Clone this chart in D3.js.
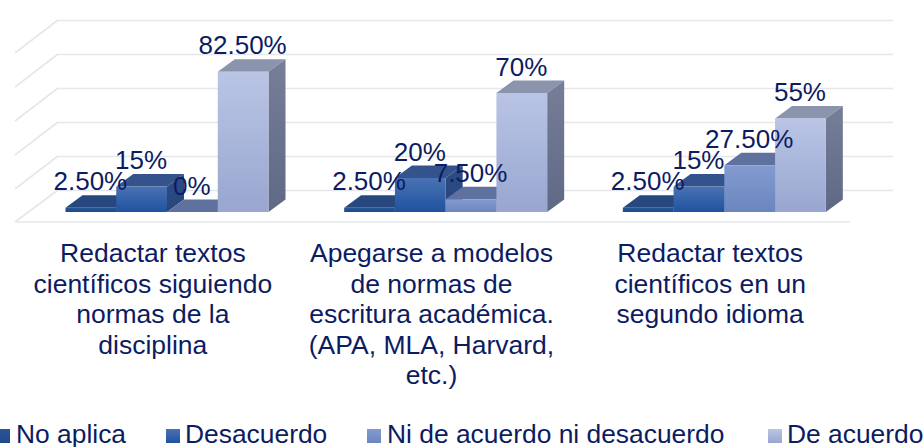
<!DOCTYPE html>
<html>
<head>
<meta charset="utf-8">
<title>Redaccion academica</title>
<script src="https://d3js.org/d3.v7.min.js"></script>
<style>
  html, body { margin: 0; padding: 0; background: #fff; overflow: hidden; }
  text { font-family: "Liberation Sans", Arial, sans-serif; fill: #0c1c62; }
</style>
</head>
<body>
<div id="vis"></div>
<script>
// data
var categories = ["c1", "c2", "c3"]
var categoryLines = [
  ["Redactar textos", "científicos siguiendo", "normas de la", "disciplina"],
  ["Apegarse a modelos", "de normas de", "escritura académica.", "(APA, MLA, Harvard,", "etc.)"],
  ["Redactar textos", "científicos en un", "segundo idioma"]
]
var seriesNames = ["No aplica", "Desacuerdo", "Ni de acuerdo ni desacuerdo", "De acuerdo"]
var noAplica = [2.5, 2.5, 2.5]
var desacuerdo = [15, 20, 15]
var niDeAcuerdo = [0, 7.5, 27.5]
var deAcuerdo = [82.5, 70, 55]
var valueLabels = [
  ["2.50%", "2.50%", "2.50%"],
  ["15%", "20%", "15%"],
  ["0%", "7.50%", "27.50%"],
  ["82.50%", "70%", "55%"]
]
var gridTicks = [0, 20, 40, 60, 80, 100]

var seriesValues = [noAplica, desacuerdo, niDeAcuerdo, deAcuerdo]

var width = 924, height = 447
var depthX = 17, depthY = 12.5      // 3d offset of the bars
var wallX = 43, wallY = 22          // offset from the floor front to the back wall

var svg = d3.select("#vis").append("svg")
  .attr("width", width).attr("height", height)
  .style("display", "block")

// bar colours: front gradient top/bottom, roof, side top/bottom
var colors = [
  { f0: "#2a5596", f1: "#1c4a8c", top: "#27477f", s0: "#27477f", s1: "#27477f" },
  { f0: "#4a72b4", f1: "#1f529f", top: "#34538c", s0: "#2d4c84", s1: "#26467d" },
  { f0: "#849bd0", f1: "#6a86bf", top: "#5f729f", s0: "#5b6d99", s1: "#4f6190" },
  { f0: "#bac5e5", f1: "#98a6d0", top: "#8a94ad", s0: "#767e98", s1: "#5f6885" }
]

var defs = svg.append("defs")
colors.forEach(function (c, i) {
  var g = defs.append("linearGradient").attr("id", "front" + i)
    .attr("x1", 0).attr("y1", 0).attr("x2", 0).attr("y2", 1)
  g.append("stop").attr("offset", "0%").attr("stop-color", c.f0)
  g.append("stop").attr("offset", "100%").attr("stop-color", c.f1)
  var s = defs.append("linearGradient").attr("id", "side" + i)
    .attr("x1", 0).attr("y1", 0).attr("x2", 0).attr("y2", 1)
  s.append("stop").attr("offset", "0%").attr("stop-color", c.s0)
  s.append("stop").attr("offset", "100%").attr("stop-color", c.s1)
})

// scales
var x0 = d3.scaleBand().domain(categories).range([27.5, 863.5])
var x1 = d3.scaleBand().domain(d3.range(4)).range([38, 241])
var y = d3.scaleLinear().domain([0, 100]).range([212, 42])

// back wall gridlines
var gridX0 = 58, gridX1 = 893
var gridG = svg.append("g")
  .attr("transform", "translate(" + gridX0 + "," + (-wallY) + ")")
  .call(d3.axisLeft(y).tickValues(gridTicks).tickSize(-(gridX1 - gridX0)).tickFormat(""))
gridG.select(".domain").remove()
gridG.selectAll("line").attr("stroke", "#e6e7ea").attr("stroke-width", 1.6)

// slanted lines on the left side wall
svg.append("g").selectAll("line").data(gridTicks).enter().append("line")
  .attr("x1", gridX0).attr("y1", function (d) { return y(d) - wallY })
  .attr("x2", gridX0 - wallX).attr("y2", function (d) { return y(d) + (d === 0 ? 10 : 11) })
  .attr("stroke", "#e6e7ea").attr("stroke-width", 1.6)

// floor front line
svg.append("line")
  .attr("x1", 16).attr("x2", 850)
  .attr("y1", y(0) + 10).attr("y2", y(0) + 10)
  .attr("stroke", "#e6e7ea").attr("stroke-width", 1.6)

// bars, left to right so the next bar covers the side of the previous one
var bars = []
categories.forEach(function (c, ci) {
  seriesValues.forEach(function (vals, si) {
    bars.push({ cat: c, ci: ci, si: si, v: vals[ci], label: valueLabels[si][ci] })
  })
})

var barG = svg.append("g").selectAll("g").data(bars).enter().append("g")

function pts(a) { return a.map(function (p) { return p.join(",") }).join(" ") }
function left(d) { return x0(d.cat) + x1(d.si) }

barG.append("polygon") // roof
  .attr("points", function (d) {
    var l = left(d), r = l + x1.bandwidth(), t = y(d.v)
    return pts([[l, t], [r, t], [r + depthX, t - depthY], [l + depthX, t - depthY]])
  })
  .attr("fill", function (d) { return colors[d.si].top })

barG.append("polygon") // side
  .attr("points", function (d) {
    var r = left(d) + x1.bandwidth(), t = y(d.v), b = y(0)
    return pts([[r, t], [r + depthX, t - depthY], [r + depthX, b - depthY], [r, b]])
  })
  .attr("fill", function (d) { return "url(#side" + d.si + ")" })

barG.append("rect") // front
  .attr("x", left)
  .attr("y", function (d) { return y(d.v) })
  .attr("width", x1.bandwidth())
  .attr("height", function (d) { return y(0) - y(d.v) })
  .attr("fill", function (d) { return "url(#front" + d.si + ")" })

// value labels
svg.append("g").selectAll("text").data(bars).enter().append("text")
  .attr("x", function (d) { return left(d) + x1.bandwidth() / 2 - 0.5 })
  .attr("y", function (d) { return y(d.v) - depthY - 5 })
  .attr("text-anchor", "middle")
  .style("font-size", "26px")
  .text(function (d) { return d.label })

// category labels
var catAxis = d3.axisBottom(x0).tickSize(0).tickFormat("")
var catG = svg.append("g").attr("transform", "translate(-14,240)").call(catAxis)
catG.select(".domain").remove()
catG.selectAll(".tick text").remove()
catG.selectAll(".tick").append("text")
  .attr("text-anchor", "middle")
  .style("font-size", "26.5px")
  .each(function (d, i) {
    var t = d3.select(this)
    categoryLines[i].forEach(function (line, k) {
      t.append("tspan").attr("x", 0).attr("y", 22 + k * 30.6).text(line)
    })
  })

// legend
var legendSquareX = [-4, 166, 367, 768]
var legendTextX = [16, 185, 387, 787]
var legend = svg.append("g").selectAll("g").data(seriesNames).enter().append("g")
legend.append("rect")
  .attr("x", function (d, i) { return legendSquareX[i] })
  .attr("y", 429).attr("width", 14).attr("height", 14)
  .attr("fill", function (d, i) { return "url(#front" + i + ")" })
legend.append("text")
  .attr("x", function (d, i) { return legendTextX[i] })
  .attr("y", 443)
  .style("font-size", "26.4px")
  .text(function (d) { return d })
</script>
</body>
</html>
